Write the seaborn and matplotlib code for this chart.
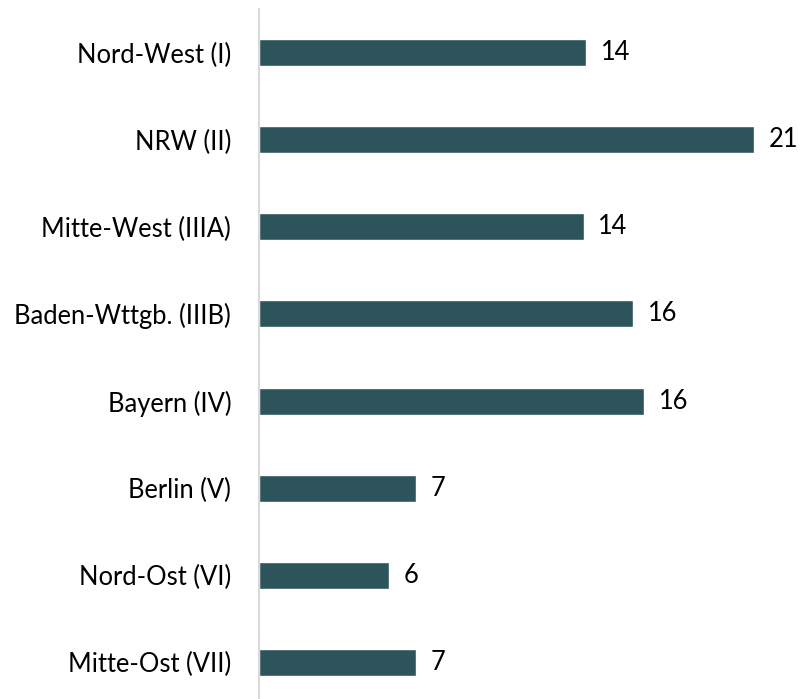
import matplotlib
matplotlib.use("Agg")
import matplotlib.pyplot as plt
import seaborn as sns
import pandas as pd

# regions and share values (labels shown rounded)
regions = [
    "Nord-West (I)",
    "NRW (II)",
    "Mitte-West (IIIA)",
    "Baden-Wttgb. (IIIB)",
    "Bayern (IV)",
    "Berlin (V)",
    "Nord-Ost (VI)",
    "Mitte-Ost (VII)",
]
values = [13.98, 21.14, 13.87, 15.98, 16.45, 6.71, 5.55, 6.71]

BAR_COLOR = "#2d545a"
FONT_SIZE = 18.4

sns.set_theme(style="white")
plt.rcParams["font.family"] = ["Lato", "DejaVu Sans"]

df = pd.DataFrame({"region": regions, "value": values})

fig = plt.figure(figsize=(8.01, 6.99), dpi=100)
W, H = 801, 699
scale = 23.41  # px per unit
x0, x1 = 259, 790
ax = fig.add_axes([x0 / W, (H - 706) / H, (x1 - x0) / W, 697 / H])

sns.barplot(data=df, x="value", y="region", color=BAR_COLOR, width=0.31,
            saturation=1, ax=ax)

ax.set_xlim(0, (x1 - x0) / scale)
ax.set_xlabel("")
ax.set_ylabel("")
ax.set_xticks([])
ax.tick_params(axis="y", length=0, pad=20, labelsize=FONT_SIZE, labelcolor="black")

for side in ["top", "right", "bottom"]:
    ax.spines[side].set_visible(False)
ax.spines["left"].set_color("#d9d9d9")
ax.spines["left"].set_linewidth(1.5)

ax.bar_label(ax.containers[0], labels=[f"{v:.0f}" for v in values],
             padding=10.5, fontsize=FONT_SIZE, color="black")

fig.savefig("out.png", dpi=100)
